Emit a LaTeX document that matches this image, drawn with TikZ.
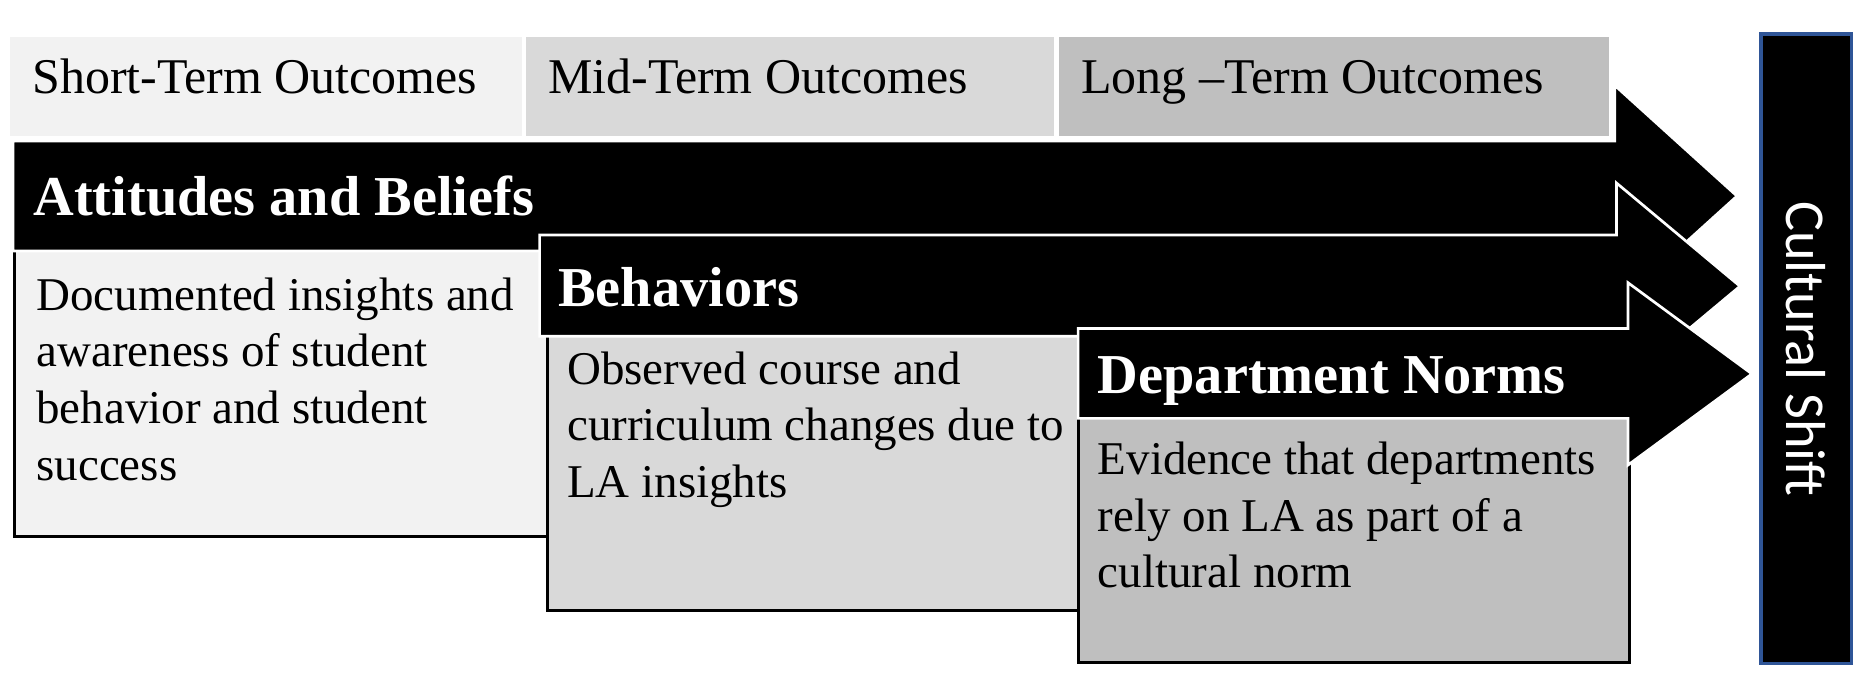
\documentclass[tikz,border=0pt]{standalone}
\usepackage{fontspec}
\setmainfont{Liberation Serif}
\newfontfamily\shiftfont{Carlito}
\usetikzlibrary{shapes,backgrounds}
\definecolor{shortgray}{HTML}{F2F2F2}
\definecolor{midgray}{HTML}{D9D9D9}
\definecolor{longgray}{HTML}{BFBFBF}
\definecolor{shiftblue}{HTML}{2F5597}
\tikzset{
  headbox/.style={draw=white,line width=0.8pt},
  descbox/.style={draw=black,line width=0.85pt},
  bigarrow/.style={fill=black,draw=white,line width=0.8pt},
  headtxt/.style={anchor=base west,inner sep=0pt,font=\fontsize{14.9}{17}\selectfont},
  titletxt/.style={anchor=base west,inner sep=0pt,text=white,font=\fontsize{16.8}{20}\selectfont\bfseries},
  desctxt/.style={anchor=north west,inner sep=0pt,align=left,font=\fontsize{14}{16.9}\selectfont}
}

\begin{document}
\begin{tikzpicture}[x=0.0125cm,y=-0.0125cm]
\useasboundingbox (0,0) rectangle (1568,576);

% header row
\foreach \xa/\xb/\col/\nm/\txt in {7.5/438.5/shortgray/short/Short-Term Outcomes,
  440/885/midgray/mid/Mid-Term Outcomes, 887/1350/longgray/long/Long –Term Outcomes}
{
\filldraw[headbox,fill=\col] (\xa,30) rectangle (\xb,115);
\node[headtxt] (\nm) at (\xa+19,78.2) {\txt};
}

% attitudes and beliefs
\filldraw[descbox,fill=shortgray] (12.5,205) rectangle (459,450);
\filldraw[bigarrow] (11,118.3) -- (1354,118.3) -- (1354,71.6) -- (1456.5,164.4)
  -- (1354,257.2) -- (1354,210.5) -- (11,210.5) -- cycle;
\node[titletxt] (attitudes) at (27.5,181) {Attitudes and Beliefs};
\node[desctxt] (attdesc) at (30,232.2) {Documented insights and\\awareness of student\\behavior and student\\success};

% behaviors
\filldraw[descbox,fill=midgray] (459,278) rectangle (904,511.7);
\filldraw[bigarrow] (452.5,197) -- (1355.5,197) -- (1355.5,153.5) -- (1459,240)
  -- (1355.5,326.5) -- (1355.5,282) -- (452.5,282) -- cycle;
\node[titletxt] (behaviors) at (467.5,257) {Behaviors};
\node[desctxt] (behdesc) at (475,294.1) {Observed course and\\curriculum changes due to\\LA insights};

% department norms
\filldraw[descbox,fill=longgray] (904,346) rectangle (1366.5,555.7);
\filldraw[bigarrow] (904,275.5) -- (1365,275.5) -- (1365,237) -- (1469,313.5)
  -- (1365,390) -- (1365,350.8) -- (904,350.8) -- cycle;
\node[titletxt] (norms) at (920,330) {Department Norms};
\node[desctxt] (normdesc) at (920,369.9) {Evidence that departments\\rely on LA as part of a\\cultural norm};

% cultural shift
\filldraw[draw=shiftblue,fill=black,line width=1pt] (1476.5,28.6) rectangle (1552.5,556.5);
\node[rotate=-90,text=white,font=\shiftfont\fontsize{16.8}{20}\selectfont] (shift) at (1514.5,292.5) {Cultural Shift};
\end{tikzpicture}
\end{document}
